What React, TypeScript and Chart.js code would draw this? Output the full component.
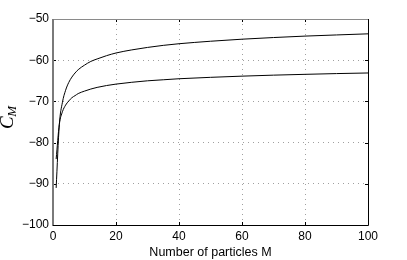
import React, { useEffect, useRef } from "react";
import { Chart, registerables } from "chart.js";

Chart.register(...registerables);

const particlesM = [1, 2, 3, 4, 5, 6, 7, 8, 10, 12, 14, 17, 20, 25, 30, 35, 40, 50, 60, 70, 80, 90, 100];
const upperCurve = [-91.0, -75.7, -70.2, -67.3, -65.4, -64.1, -63.1, -62.3, -61.2, -60.3, -59.7, -58.9, -58.25, -57.5, -56.9, -56.4, -56.0, -55.4, -54.9, -54.5, -54.15, -53.87, -53.6];
const lowerCurve = [-84.0, -75.6, -72.5, -70.9, -69.9, -69.1, -68.6, -68.1, -67.5, -67.0, -66.6, -66.15, -65.8, -65.36, -65.0, -64.75, -64.5, -64.16, -63.87, -63.63, -63.43, -63.25, -63.1];

const xTickValues = [0, 20, 40, 60, 80, 100];
const yTickValues = [-100, -90, -80, -70, -60, -50];
const xTitle = "Number of particles M";
const yTitleMain = "C";
const yTitleSub = "M";

const FONT = "'Liberation Sans', Arial, Helvetica, sans-serif";

const framePlugin = {
  id: "matlabFrame",
  afterDraw(chart: any) {
    const { ctx, chartArea, scales } = chart;
    const l = Math.round(chartArea.left);
    const r = Math.round(chartArea.right);
    const t = Math.round(chartArea.top);
    const b = Math.round(chartArea.bottom);
    ctx.save();
    // inward tick marks
    ctx.lineWidth = 1;
    ctx.strokeStyle = "#000";
    const tl = 3;
    for (const v of xTickValues) {
      const px = Math.round(scales.x.getPixelForValue(v)) + 0.5;
      ctx.beginPath();
      ctx.moveTo(px, b);
      ctx.lineTo(px, b - tl);
      ctx.moveTo(px, t);
      ctx.lineTo(px, t + tl);
      ctx.stroke();
    }
    for (const v of yTickValues) {
      const py = Math.round(scales.y.getPixelForValue(v)) + 0.5;
      ctx.beginPath();
      ctx.moveTo(l, py);
      ctx.lineTo(l + tl, py);
      ctx.moveTo(r, py);
      ctx.lineTo(r - tl, py);
      ctx.stroke();
    }
    // frame
    ctx.strokeStyle = "#8a8a8a";
    ctx.lineWidth = 1;
    ctx.beginPath();
    ctx.moveTo(l, t + 0.5);
    ctx.lineTo(r, t + 0.5);
    ctx.stroke();
    ctx.strokeStyle = "#7a7a7a";
    ctx.lineWidth = 2;
    ctx.beginPath();
    ctx.moveTo(l, t);
    ctx.lineTo(l, b + 1);
    ctx.stroke();
    ctx.strokeStyle = "#000";
    ctx.lineWidth = 1;
    ctx.beginPath();
    ctx.moveTo(l, b + 0.5);
    ctx.lineTo(r + 0.5, b + 0.5);
    ctx.moveTo(r + 0.5, t);
    ctx.lineTo(r + 0.5, b + 0.5);
    ctx.stroke();
    // y axis title C_M (rotated)
    ctx.translate(13, 129);
    ctx.rotate(-Math.PI / 2);
    ctx.fillStyle = "#000";
    ctx.textBaseline = "alphabetic";
    ctx.textAlign = "left";
    ctx.font = "italic 19px 'Liberation Serif', 'Times New Roman', serif";
    ctx.fillText(yTitleMain, 0, 0);
    const w = ctx.measureText(yTitleMain).width;
    ctx.font = "italic 13px 'Liberation Serif', 'Times New Roman', serif";
    ctx.fillText(yTitleSub, w - 0.5, 3);
    ctx.restore();
  },
};

export default function App() {
  const canvasRef = useRef<HTMLCanvasElement | null>(null);

  useEffect(() => {
    if (!canvasRef.current) return;
    const mk = (ys: number[]) => particlesM.map((m, i) => ({ x: m, y: ys[i] }));
    const chart = new Chart(canvasRef.current, {
      type: "line",
      data: {
        datasets: [
          {
            data: mk(upperCurve),
            borderColor: "#000",
            borderWidth: 1,
            pointRadius: 0,
            fill: false,
            cubicInterpolationMode: "monotone",
          },
          {
            data: mk(lowerCurve),
            borderColor: "#000",
            borderWidth: 1,
            pointRadius: 0,
            fill: false,
            cubicInterpolationMode: "monotone",
          },
        ],
      },
      options: {
        animation: false,
        responsive: false,
        devicePixelRatio: 1,
        layout: { padding: { top: 19, right: 39, left: 0, bottom: 0 } },
        plugins: { legend: { display: false }, tooltip: { enabled: false } },
        scales: {
          x: {
            type: "linear",
            min: 0,
            max: 100,
            afterBuildTicks: (s: any) => {
              s.ticks = xTickValues.map((v) => ({ value: v }));
            },
            afterFit: (s: any) => {
              s.height = 35;
            },
            ticks: {
              color: "#000",
              font: { family: FONT, size: 12 },
              padding: 4,
              maxRotation: 0,
              callback: (v: any) => String(v),
            },
            grid: { color: "#a0a0a0", lineWidth: 1, drawTicks: false },
            border: { display: false, dash: [1, 4] },
            title: {
              display: true,
              text: xTitle,
              color: "#000",
              font: { family: FONT, size: 12.5 },
              padding: { top: 0, bottom: 0 },
            },
          },
          y: {
            type: "linear",
            min: -100,
            max: -50,
            afterBuildTicks: (s: any) => {
              s.ticks = yTickValues.map((v) => ({ value: v }));
            },
            afterFit: (s: any) => {
              s.width = 53;
            },
            ticks: {
              color: "#000",
              font: { family: FONT, size: 12 },
              padding: 4,
              callback: (v: any) => String(v).replace("-", "\u2212"),
            },
            grid: { color: "#a0a0a0", lineWidth: 1, drawTicks: false },
            border: { display: false, dash: [1, 4] },
          },
        },
      },
      plugins: [framePlugin],
    });
    return () => chart.destroy();
  }, []);

  return (
    <div style={{ position: "fixed", left: 0, top: 0, width: 407, height: 260, background: "#fff" }}>
      <canvas ref={canvasRef} width={407} height={260} style={{ display: "block" }} />
    </div>
  );
}
